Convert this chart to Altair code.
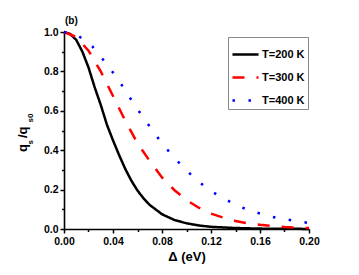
import altair as alt
import pandas as pd

series_names = ["T=200 K", "T=300 K", "T=400 K"]

black_delta = [0, 0.005, 0.01, 0.015, 0.02, 0.025, 0.03, 0.035, 0.04, 0.045, 0.05, 0.055,
               0.06, 0.065, 0.07, 0.08, 0.09, 0.10, 0.11, 0.12, 0.14, 0.16, 0.18, 0.20]
black_q = [1.0, 0.99, 0.96, 0.90, 0.82, 0.72, 0.63, 0.53, 0.45, 0.375, 0.305, 0.245,
           0.195, 0.155, 0.122, 0.075, 0.046, 0.029, 0.018, 0.011, 0.005, 0.002, 0.001, 0.0005]

red_delta = [0, 0.01, 0.02, 0.03, 0.04, 0.05, 0.06, 0.07, 0.08, 0.09, 0.10, 0.11,
             0.12, 0.13, 0.14, 0.15, 0.16, 0.17, 0.18, 0.19, 0.20]
red_q = [1.0, 0.975, 0.905, 0.80, 0.675, 0.55, 0.435, 0.345, 0.262, 0.198, 0.147, 0.108,
         0.078, 0.058, 0.041, 0.029, 0.021, 0.015, 0.010, 0.007, 0.005]

blue_delta = [0, 0.0117, 0.0231, 0.032, 0.0408, 0.0479, 0.0552, 0.0626, 0.0702, 0.0784,
              0.0873, 0.0974, 0.108, 0.119, 0.130, 0.141, 0.152, 0.163, 0.174, 0.186, 0.196, 0.20]
blue_q = [1.0, 0.981, 0.927, 0.859, 0.788, 0.724, 0.653, 0.585, 0.518, 0.448,
          0.381, 0.313, 0.25, 0.196, 0.157, 0.12, 0.093, 0.073, 0.056, 0.044, 0.034, 0.031]

x_ticks = [round(i * 0.02, 2) for i in range(11)]
y_ticks = [round(i * 0.1, 1) for i in range(11)]

rows = []
for name, xs, ys in zip(series_names, [black_delta, red_delta, blue_delta], [black_q, red_q, blue_q]):
    for i, (a, b) in enumerate(zip(xs, ys)):
        rows.append({"T": name, "delta": a, "q": b, "order": i})
df = pd.DataFrame(rows)

FONT = "Liberation Sans"

lines = alt.Chart(df).mark_line(strokeWidth=2.5).encode(
    x=alt.X("delta:Q",
            scale=alt.Scale(domain=[0, 0.2], nice=False, zero=False),
            axis=alt.Axis(values=x_ticks, labelFlush=False,
                          labelExpr="round(datum.value*50) % 2 == 0 ? format(datum.value, '.2f') : ''",
                          tickSize={"condition": {"test": "round(datum.value*50) % 2 == 0", "value": 4}, "value": 2.5},
                          labelPadding=3,
                          title="Δ (eV)", titleFontSize=13, titleY=31, titleBaseline="alphabetic")),
    y=alt.Y("q:Q",
            scale=alt.Scale(domain=[0, 1], nice=False, zero=False),
            axis=alt.Axis(values=y_ticks, labelFlush=False,
                          labelExpr="round(datum.value*10) % 2 == 0 ? format(datum.value, '.1f') : ''",
                          tickSize={"condition": {"test": "round(datum.value*10) % 2 == 0", "value": 4}, "value": 2.5},
                          labelPadding=2,
                          title="")),
    color=alt.Color("T:N", title=None,
                    scale=alt.Scale(domain=series_names, range=["#000000", "#ff0000", "#0000ff"])),
    strokeDash=alt.StrokeDash("T:N", title=None,
                              scale=alt.Scale(domain=series_names, range=[[1, 0], [12, 12], [2.5, 13.5]])),
    order="order:Q",
)

main_df = pd.DataFrame({"t": ["q", "/q"], "px": [-37.3, -37.3], "py": [120, 106]})
sub_df = pd.DataFrame({"t": ["s", "s0"], "px": [-30.7, -30.7], "py": [112.5, 90.5]})

title_main = alt.Chart(main_df).mark_text(angle=270, align="left", baseline="alphabetic",
                                          font=FONT, fontWeight="bold", fontSize=13, color="black").encode(
    x=alt.X("px:Q", scale=None), y=alt.Y("py:Q", scale=None), text="t:N")
title_sub = alt.Chart(sub_df).mark_text(angle=270, align="left", baseline="alphabetic",
                                        font=FONT, fontWeight="bold", fontSize=8, color="black").encode(
    x=alt.X("px:Q", scale=None), y=alt.Y("py:Q", scale=None), text="t:N")

panel_df = pd.DataFrame({"t": ["(b)"], "px": [1], "py": [-8]})
panel = alt.Chart(panel_df).mark_text(align="left", baseline="alphabetic",
                                      font=FONT, fontWeight="bold", fontSize=10, color="black").encode(
    x=alt.X("px:Q", scale=None), y=alt.Y("py:Q", scale=None), text="t:N")

chart = alt.layer(lines, title_main, title_sub, panel).properties(
    width=245, height=197,
    autosize=alt.AutoSizeParams(type="none"),
    padding={"left": 56, "top": 24, "right": 40, "bottom": 44},
).configure_view(stroke=None).configure_axis(
    grid=False, domainColor="black", domainWidth=1.6, tickColor="black", tickWidth=1.5,
    labelFont=FONT, labelFontWeight="bold", labelFontSize=10.5, labelColor="black",
    titleFont=FONT, titleFontWeight="bold", titleColor="black",
).configure_legend(
    orient="none", legendX=164, legendY=5, strokeColor="#888888", fillColor="white",
    padding=3, rowPadding=3, symbolType="stroke", symbolSize=680, symbolStrokeWidth=2.5,
    labelFont=FONT, labelFontWeight="bold", labelFontSize=11, labelColor="black", labelOffset=2,
)

chart.save("out.html", embed_options={"renderer": "svg", "actions": False})
